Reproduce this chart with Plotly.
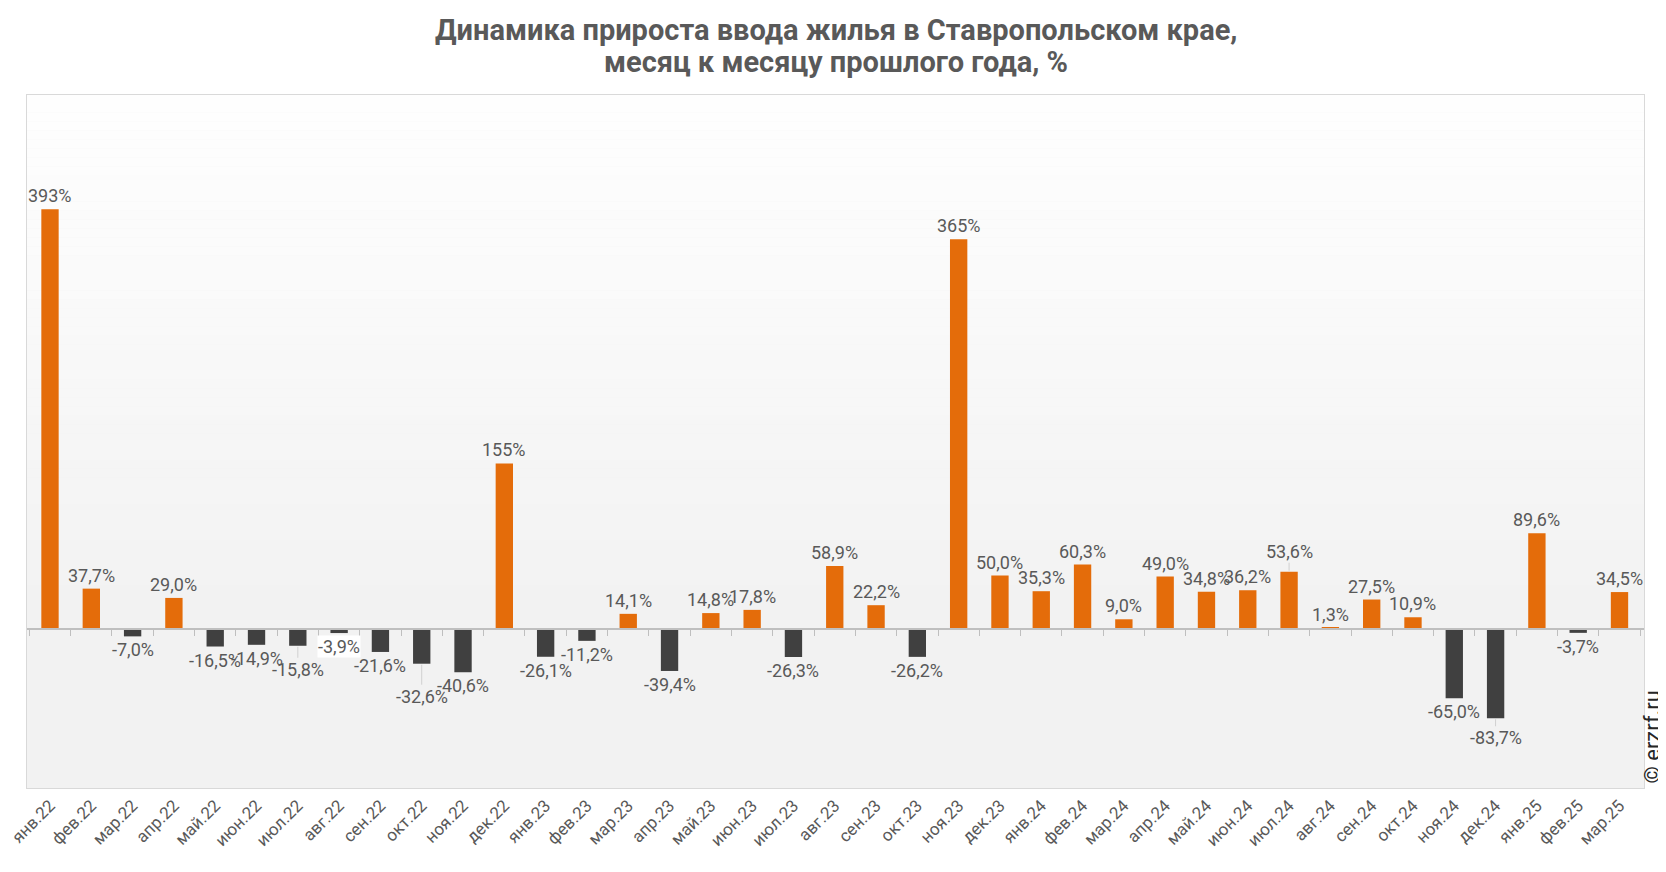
import plotly.graph_objects as go

months = ['янв.22', 'фев.22', 'мар.22', 'апр.22', 'май.22', 'июн.22', 'июл.22', 'авг.22', 'сен.22',
          'окт.22', 'ноя.22', 'дек.22', 'янв.23', 'фев.23', 'мар.23', 'апр.23', 'май.23', 'июн.23',
          'июл.23', 'авг.23', 'сен.23', 'окт.23', 'ноя.23', 'дек.23', 'янв.24', 'фев.24', 'мар.24',
          'апр.24', 'май.24', 'июн.24', 'июл.24', 'авг.24', 'сен.24', 'окт.24', 'ноя.24', 'дек.24',
          'янв.25', 'фев.25', 'мар.25']
growth = [393, 37.7, -7.0, 29.0, -16.5, -14.9, -15.8, -3.9, -21.6,
          -32.6, -40.6, 155, -26.1, -11.2, 14.1, -39.4, 14.8, 17.8,
          -26.3, 58.9, 22.2, -26.2, 365, 50.0, 35.3, 60.3, 9.0,
          49.0, 34.8, 36.2, 53.6, 1.3, 27.5, 10.9, -65.0, -83.7,
          89.6, -3.7, 34.5]

ORANGE = '#E46C0A'
DARK = '#404040'
GREY_TXT = '#595959'

# labels that the original chart pushes away from their neighbours (extra px, with a leader line)
nudge = {'июл.22': 9, 'окт.22': 18, 'дек.24': 5, 'июл.24': 6}


def fmt(v):
    if abs(v) >= 100:
        return f"{v:.0f}%"
    return f"{v:.1f}".replace('.', ',') + '%'


colors = [ORANGE if v >= 0 else DARK for v in growth]

fig = go.Figure()
fig.add_trace(go.Bar(
    x=months, y=growth,
    marker=dict(color=colors, line=dict(width=0)),
    width=0.42,
    hoverinfo='x+y',
))
# helper trace so the axis through zero gets the categories
fig.add_trace(go.Scatter(
    x=months, y=[0] * len(months), xaxis='x2', mode='lines',
    line=dict(width=0), hoverinfo='skip', showlegend=False,
))

annotations = []
for m, v in zip(months, growth):
    extra = nudge.get(m, 0)
    sign = 1 if v >= 0 else -1
    ann = dict(
        x=m, y=v, text=fmt(v), xref='x', yref='y',
        font=dict(family='Roboto', size=18, color=GREY_TXT),
        yanchor='bottom' if v >= 0 else 'top', borderpad=0,
    )
    if extra:
        ann.update(showarrow=True, arrowhead=0, arrowwidth=1, arrowcolor='#D0D0D0',
                   ax=0, ay=-sign * (extra + 3), standoff=1)
    else:
        ann.update(showarrow=False, yshift=sign * 2)
    if m == 'авг.22':
        ann.update(bgcolor='white')
    annotations.append(ann)

title_lines = ['Динамика прироста ввода жилья в Ставропольском крае,',
               'месяц к месяцу прошлого года, %']
for line, yc in zip(title_lines, [30, 62]):
    annotations.append(dict(
        text=f'<b>{line}</b>', xref='paper', yref='paper', x=0.5, y=(788 - yc) / 693,
        xanchor='center', yanchor='middle', showarrow=False,
        font=dict(family='Roboto', size=29, color=GREY_TXT),
    ))
annotations.append(dict(
    text='© erzrf.ru', textangle=-90, xref='paper', yref='paper',
    x=1.0, y=0.0, xanchor='center', yanchor='bottom', xshift=8, yshift=2,
    showarrow=False, font=dict(family='Roboto', size=22, color='#262626'),
))

# vertical gradient background (white at top -> light grey)
shapes = []
n = 60
zero_frac = 159 / 693
for i in range(n):
    y0 = zero_frac + (1 - zero_frac) * i / n
    y1 = zero_frac + (1 - zero_frac) * (i + 1) / n
    t = i / n
    c = int(242 + (255 - 242) * t)
    shapes.append(dict(type='rect', xref='paper', yref='paper', x0=0, x1=1, y0=y0, y1=y1,
                       fillcolor=f'rgb({c},{c},{c})', line=dict(width=0), layer='below'))

# page body adds an 8px margin, so the figure is sized to fit inside the window
fig.update_layout(
    width=1658, height=864,
    margin=dict(l=19, r=22, t=87, b=84, autoexpand=False),
    paper_bgcolor='white',
    plot_bgcolor='#F2F2F2',
    showlegend=False,
    shapes=shapes,
    annotations=annotations,
    xaxis=dict(
        type='category', tickangle=-45, automargin=False,
        tickfont=dict(family='Roboto', size=17, color=GREY_TXT),
        showgrid=False, ticks='', showline=True, mirror=True,
        linecolor='#D9D9D9', linewidth=1,
    ),
    xaxis2=dict(
        type='category', matches='x', overlaying='x', anchor='free', position=zero_frac,
        showticklabels=False, showgrid=False, ticks='outside', tickson='boundaries', automargin=False,
        ticklen=6, tickcolor='#BFBFBF', showline=True, linecolor='#BFBFBF', linewidth=1.5,
    ),
    yaxis=dict(
        range=[-149, 500], showticklabels=False, showgrid=False, zeroline=False, automargin=False,
        showline=True, mirror=True, linecolor='#D9D9D9', linewidth=1,
    ),
)

fig.write_html("out.html")
